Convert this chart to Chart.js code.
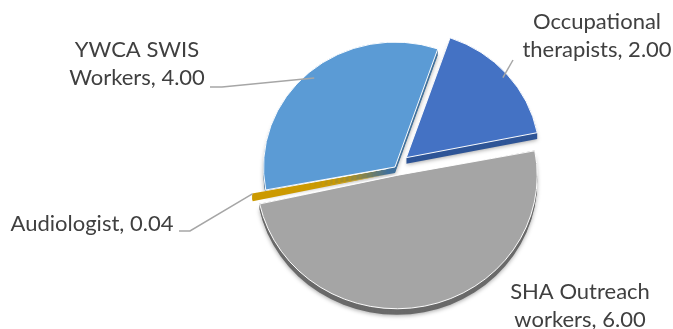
<!DOCTYPE html>
<html>
<head>
<meta charset="utf-8">
<script src="https://cdn.jsdelivr.net/npm/chart.js@4.4.1/dist/chart.umd.min.js"></script>
<style>
  html, body { margin: 0; padding: 0; background: #fff; }
</style>
</head>
<body>
<canvas id="pie" width="673" height="329"></canvas>
<script>
// values
let categories = ['Occupational therapists', 'SHA Outreach workers', 'Audiologist', 'YWCA SWIS Workers'];
let staffCounts = [2.00, 6.00, 0.04, 4.00];

let topColors = ['#4472c4', '#a5a5a5', '#d4a000', '#5b9bd5'];
let sideColors = ['#2f5597', '#6a6a6a', '#cc9a00', '#41719c'];
let explode = [60, 36, 28, 0];   // chart.js divides arc offset by 4
let depth = 6;
let tilt = 0.95;                 // squash the pie a little, like the 3D view
let sideInFront = [false, false, true, false];  // the thin gold slice shows its side over the grey one

// where the text sits and where its leader line starts (null = no line)
let labelSpots = [
  { x: 597, y: 22, line: [[513, 60]], reach: 0.96 },
  { x: 580, y: 292, line: null },
  { x: 92, y: 224, line: [[179, 231], [190, 231]], reach: 1.0 },
  { x: 137, y: 50, line: [[210, 87], [222, 87]], reach: 0.94 }
];

function arcGeom(chart, i) {
  let arc = chart.getDatasetMeta(0).data[i];
  let p = arc.getProps(['x', 'y', 'startAngle', 'endAngle', 'outerRadius']);
  let mid = (p.startAngle + p.endAngle) / 2;
  let off = explode[i] / 4;
  let circ = p.endAngle - p.startAngle;
  let fix = 1 - Math.sin(Math.min(Math.PI, circ));
  return {
    px: p.x, py: p.y,
    cx: p.x + Math.cos(mid) * off,
    cy: p.y + Math.sin(mid) * off,
    r: p.outerRadius + off * fix,
    start: p.startAngle, end: p.endAngle, mid: mid
  };
}

function drawSide(chart, i, withShadow) {
  const ctx = chart.ctx;
  let g = arcGeom(chart, i);
  ctx.save();
  ctx.fillStyle = sideColors[i];
  for (let d = depth; d >= 1; d--) {
    if (d === depth && withShadow) {
      ctx.shadowColor = 'rgba(0,0,0,0.35)';
      ctx.shadowBlur = 4;
      ctx.shadowOffsetY = 1;
    } else {
      ctx.shadowColor = 'transparent';
    }
    let dy = d / tilt;
    ctx.beginPath();
    ctx.moveTo(g.cx, g.cy + dy);
    ctx.arc(g.cx, g.cy + dy, g.r, g.start, g.end);
    ctx.closePath();
    ctx.fill();
  }
  ctx.restore();
}

// fake 3D: squash vertically and stack darker copies of each slice under it
const depthPlugin = {
  id: 'depth',
  beforeDatasetsDraw(chart) {
    const ctx = chart.ctx;
    let cy0 = chart.getDatasetMeta(0).data[0].y;
    ctx.save();
    ctx.translate(0, cy0);
    ctx.scale(1, tilt);
    ctx.translate(0, -cy0);
    staffCounts.forEach((v, i) => {
      if (!sideInFront[i]) drawSide(chart, i, true);
    });
  },
  afterDatasetsDraw(chart) {
    staffCounts.forEach((v, i) => {
      if (sideInFront[i]) drawSide(chart, i, false);
    });
    chart.ctx.restore();
  }
};

function wrapText(ctx, text, maxW) {
  let words = text.split(' ');
  let lines = [];
  let cur = '';
  words.forEach(w => {
    let t = cur ? cur + ' ' + w : w;
    if (ctx.measureText(t).width > maxW && cur) {
      lines.push(cur);
      cur = w;
    } else {
      cur = t;
    }
  });
  lines.push(cur);
  return lines;
}

const labelPlugin = {
  id: 'sliceLabels',
  afterDraw(chart) {
    const ctx = chart.ctx;
    ctx.save();
    ctx.font = '22px Lato';
    ctx.fillStyle = '#404040';
    ctx.textAlign = 'center';
    ctx.textBaseline = 'middle';
    categories.forEach((cat, i) => {
      let spot = labelSpots[i];
      let text = cat + ', ' + staffCounts[i].toFixed(2);
      let lines = wrapText(ctx, text, 190);
      lines.forEach((ln, k) => ctx.fillText(ln, spot.x, spot.y + k * 28));
      if (spot.line) {
        let g = arcGeom(chart, i);
        let ex = g.cx + Math.cos(g.mid) * g.r * spot.reach;
        let ey = g.cy + Math.sin(g.mid) * g.r * spot.reach;
        ey = g.py + (ey - g.py) * tilt;
        ctx.strokeStyle = '#a6a6a6';
        ctx.lineWidth = 1.5;
        ctx.beginPath();
        ctx.moveTo(spot.line[0][0], spot.line[0][1]);
        for (let k = 1; k < spot.line.length; k++) ctx.lineTo(spot.line[k][0], spot.line[k][1]);
        ctx.lineTo(ex, ey);
        ctx.stroke();
      }
    });
    ctx.restore();
  }
};

let pieChart = new Chart(document.getElementById('pie').getContext('2d'), {
  type: 'pie',
  data: {
    labels: categories,
    datasets: [{
      data: staffCounts,
      backgroundColor: topColors,
      borderColor: '#ffffff',
      borderWidth: 1,
      offset: explode
    }]
  },
  options: {
    responsive: false,
    animation: false,
    rotation: 19,
    layout: { padding: { left: 232, right: 115, top: 5, bottom: -2 } },
    plugins: {
      legend: { display: false },
      tooltip: { enabled: false }
    }
  },
  plugins: [depthPlugin, labelPlugin]
});
</script>
</body>
</html>
